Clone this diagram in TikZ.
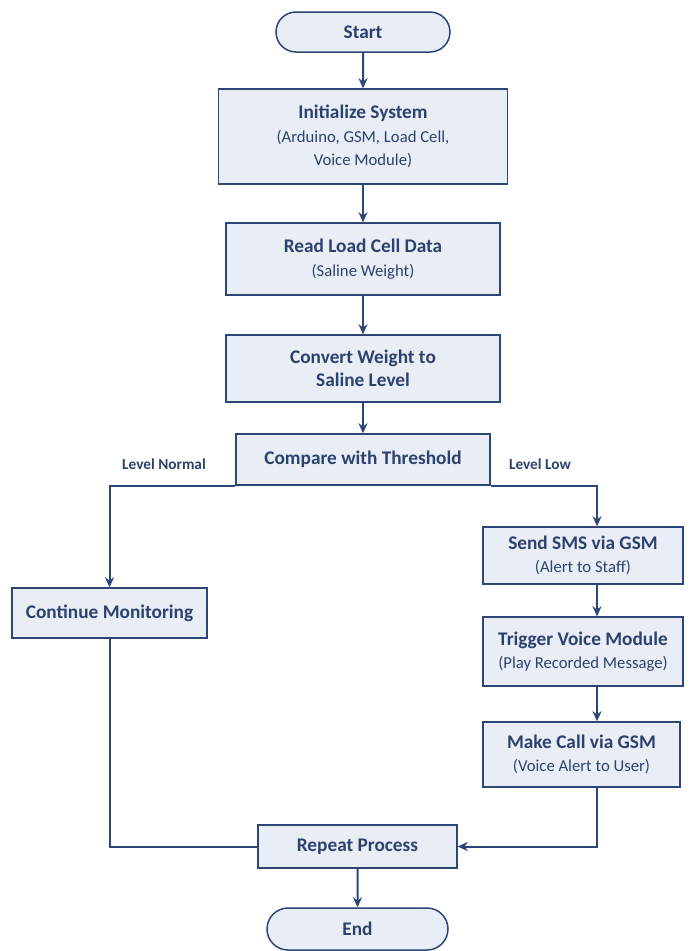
\documentclass[tikz,border=0pt]{standalone}
\usepackage{fontspec}
\setmainfont{Carlito}
\usetikzlibrary{arrows.meta,shapes.misc,calc}
\definecolor{navy}{HTML}{2E4677}
\definecolor{boxfill}{HTML}{E9EEF6}
\definecolor{txt}{HTML}{2D416E}
\tikzset{
  box/.style={draw=navy, line width=1.5pt, fill=boxfill, text=txt, align=center, inner sep=0pt, font=\fontsize{16.7}{23.5}\selectfont},
  term/.style={box, rounded rectangle},
  arr/.style={draw=navy, line width=2pt, -{Stealth[length=10pt,width=9pt]}},
  ln/.style={draw=navy, line width=2pt},
  lbl/.style={text=txt, font=\fontsize{15.3}{18}\selectfont\bfseries, inner sep=0pt},
}
\newcommand{\ttl}[1]{{\fontsize{19.3}{23.5}\selectfont\bfseries #1}}
\begin{document}
\begin{tikzpicture}[x=1pt,y=-1pt]
\useasboundingbox[fill=white] (0,0) rectangle (690,951);
\node[term, minimum width=174pt, minimum height=40pt] (start) at (363,32) {\ttl{Start}};
\node[box, minimum width=289pt, minimum height=95pt] (init) at (363,136.5) {\ttl{Initialize System}\\(Arduino, GSM, Load Cell,\\Voice Module)};
\node[box, minimum width=274pt, minimum height=72pt] (read) at (363,259) {\ttl{Read Load Cell Data}\\(Saline Weight)};
\node[box, minimum width=274pt, minimum height=67pt] (conv) at (363,368.5) {\ttl{Convert Weight to}\\\ttl{Saline Level}};
\node[box, minimum width=254pt, minimum height=51pt] (comp) at (363,459.5) {\ttl{Compare with Threshold}};
\node[box, minimum width=195pt, minimum height=50pt] (cont) at (109.5,613) {\ttl{Continue Monitoring}};
\node[box, minimum width=200pt, minimum height=57pt] (sms) at (583,555.5) {\ttl{Send SMS via GSM}\\(Alert to Staff)};
\node[box, minimum width=200pt, minimum height=69pt] (trig) at (583,651.5) {\ttl{Trigger Voice Module}\\(Play Recorded Message)};
\node[box, minimum width=197pt, minimum height=65pt] (call) at (581.5,754.5) {\ttl{Make Call via GSM}\\(Voice Alert to User)};
\node[box, minimum width=199pt, minimum height=43pt] (rep) at (357.5,846.5) {\ttl{Repeat Process}};
\node[term, minimum width=181pt, minimum height=42pt] (end) at (357.5,929) {\ttl{End}};
\node[lbl] (lnorm) at (164,464) {Level Normal};
\node[lbl] (llow) at (540,464) {Level Low};
\coordinate (rx) at (597,0);
\draw[arr] (start) -- (init);
\draw[arr] (init) -- (read);
\draw[arr] (read) -- (conv);
\draw[arr] (conv) -- (comp);
\draw[arr] (comp.south west) -| (cont.north);
\draw[arr] (comp.south east) -| (rx |- sms.north);
\draw[arr] (rx |- sms.south) -- (rx |- trig.north);
\draw[arr] (rx |- trig.south) -- (rx |- call.north);
\draw[arr] (rx |- call.south) |- (rep.east);
\draw[ln] (cont.south) |- (rep.west);
\draw[arr] (rep) -- (end);
\end{tikzpicture}
\end{document}
